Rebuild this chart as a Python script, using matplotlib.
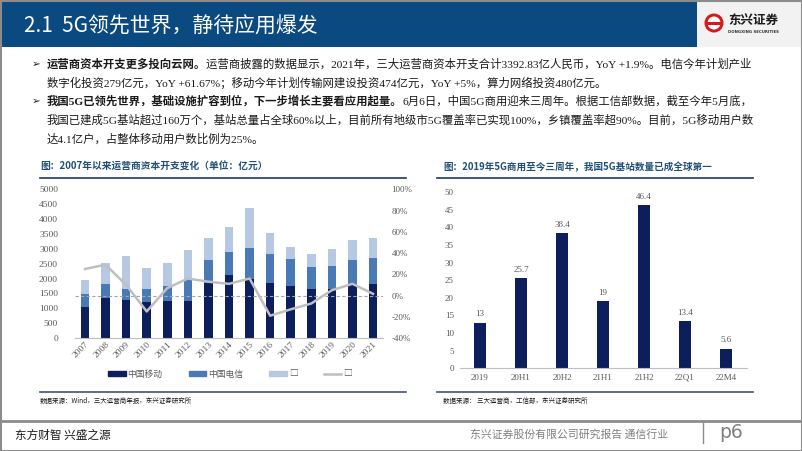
import matplotlib
matplotlib.use("Agg")
import matplotlib.pyplot as plt
from matplotlib.patches import Rectangle, Patch
from matplotlib.lines import Line2D

plt.rcParams['font.family'] = ['Liberation Serif', 'Noto Sans CJK SC', 'DejaVu Sans']
CJK = ['Noto Sans CJK SC', 'DejaVu Sans']
SERIF = ['Liberation Serif', 'Noto Sans CJK SC', 'DejaVu Sans']

# ---- data: left chart (capex, 亿元) ----
years = ['2007', '2008', '2009', '2010', '2011', '2012', '2013', '2014',
         '2015', '2016', '2017', '2018', '2019', '2020', '2021']
mobile = [1030, 1335, 1280, 1210, 1255, 1255, 1840, 2130, 1975, 1850, 1760, 1650, 1650, 1770, 1830]
telecom = [460, 480, 380, 450, 495, 720, 785, 775, 1050, 965, 890, 750, 760, 855, 855]
unicom = [455, 705, 1110, 695, 770, 1000, 730, 840, 1335, 730, 405, 435, 575, 670, 685]
growth = [25, 29, 10, -15, 7, 16, 13, 11, 16, -19, -13, -7.5, 5, 11, 1.6]
left_labels = ['中国移动', '中国电信', '□', '□']

# ---- data: right chart (5G base stations, 万个) ----
periods = ['2019', '20H1', '20H2', '21H1', '21H2', '22Q1', '22M4']
stations = [13, 25.7, 38.4, 19, 46.4, 13.4, 5.6]

NAVY = '#0c1f5c'
MID = '#4a7ab6'
LIGHT = '#b7c9e2'
LINE = '#bfbfbf'
HEAD = '#0b4a80'
TITLE = '#1f4e79'
TICK = '#595959'

W, H = 802, 451
fig = plt.figure(figsize=(W / 100, H / 100), dpi=100)

# pixel overlay for page furniture
bg = fig.add_axes([0, 0, 1, 1], zorder=-1)
bg.set_xlim(0, W)
bg.set_ylim(H, 0)
bg.axis('off')

# header
bg.add_patch(Rectangle((0, 0), 697, 47, color=HEAD, lw=0))
bg.add_patch(Rectangle((697, 0), W - 697, 47, color='#f2f2f2', lw=0))
bg.text(24, 27, '2.1  5G领先世界，静待应用爆发', color='white', fontsize=15,
        family=CJK, weight='medium', va='center')
# logo
bg.add_patch(plt.Circle((714, 23), 9.5, color='#d7191c', lw=0))
bg.add_patch(plt.Circle((714, 23), 6.5, color='white', lw=0))
bg.add_patch(Rectangle((706, 22), 16, 3, color='#d7191c', lw=0))
bg.text(728, 20, '东兴证券', color='#1a1a1a', fontsize=9, family=CJK, weight='bold', va='center')
bg.text(728, 32, 'DONGXING SECURITIES', color='#333333', fontsize=2.8,
        family=['DejaVu Sans'], weight='bold', va='center')

# bullet text
fs = 8.2


def line(y, parts, x0=47):
    t = None
    for s, bold in parts:
        kw = dict(fontsize=fs, color='#1a1a1a', family=SERIF,
                  weight='bold' if bold else 'normal', va='center', ha='left')
        if t is None:
            t = bg.text(x0, y, s, **kw)
        else:
            t = bg.annotate(s, xy=(1, 0.5), xycoords=t, **kw)
    return t


bg.text(32, 64, '➢', fontsize=7.5, family=['DejaVu Sans'], va='center', color='#1a1a1a')
bg.text(32, 101, '➢', fontsize=7.5, family=['DejaVu Sans'], va='center', color='#1a1a1a')
line(64, [('运营商资本开支更多投向云网。', True),
          ('运营商披露的数据显示，2021年，三大运营商资本开支合计3392.83亿人民币，YoY +1.9%。电信今年计划产业', False)])
line(82.5, [('数字化投资279亿元，YoY +61.67%；移动今年计划传输网建设投资474亿元，YoY +5%，算力网络投资480亿元。', False)])
line(101, [('我国5G已领先世界，基础设施扩容到位，下一步增长主要看应用起量。', True),
           ('6月6日，中国5G商用迎来三周年。根据工信部数据，截至今年5月底，', False)])
line(120, [('我国已建成5G基站超过160万个，基站总量占全球60%以上，目前所有地级市5G覆盖率已实现100%，乡镇覆盖率超90%。目前，5G移动用户数', False)])
line(139, [('达4.1亿户，占整体移动用户数比例为25%。', False)])

# chart titles / rules
bg.text(40, 167, '图：2007年以来运营商资本开支变化（单位：亿元）', color=TITLE, fontsize=7.0,
        family=CJK, weight='bold', va='center')
bg.text(443, 167, '图：2019年5G商用至今三周年，我国5G基站数量已成全球第一', color=TITLE, fontsize=6.9,
        family=CJK, weight='bold', va='center')
for x0, x1 in [(40, 406), (437, 753)]:
    bg.plot([x0, x1], [178, 178], color='#1f3864', lw=1.2)
    bg.plot([x0, x1], [391.5, 391.5], color='#44546a', lw=1.2)
bg.text(40, 401, '数据来源：Wind，三大运营商年报，东兴证券研究所', fontsize=4.7, family=CJK,
        weight='medium', va='center', color='#1a1a1a')
bg.text(443, 401, '数据来源： 三大运营商，工信部，东兴证券研究所', fontsize=4.7, family=CJK,
        weight='medium', va='center', color='#1a1a1a')

# footer
bg.plot([0, W], [420.5, 420.5], color='#8c8c8c', lw=2)
bg.text(15, 435, '东方财智 兴盛之源', fontsize=8.4, family=CJK, va='center', color='#1a1a1a')
bg.text(470, 434, '东兴证券股份有限公司研究报告 通信行业', fontsize=7.8, family=CJK,
        va='center', color='#7f7f7f')
bg.plot([703, 703], [423, 443], color='#8c8c8c', lw=1)
bg.text(719, 432, 'p6', fontsize=13.5, family=['DejaVu Sans'], va='center', color='#7f7f7f')
bg.add_patch(Rectangle((0.5, 0.5), W - 1, H - 1, fill=False, ec='#8c8c8c', lw=1.5))

# ---- left chart ----
ax = fig.add_axes([74.7 / W, 1 - 338 / H, 308.6 / W, 148.7 / H])
x = range(len(years))
bw = 0.42
ax.bar(x, mobile, bw, color=NAVY, label=left_labels[0])
bot = [m for m in mobile]
ax.bar(x, telecom, bw, bottom=bot, color=MID, label=left_labels[1])
bot2 = [m + t for m, t in zip(mobile, telecom)]
ax.bar(x, unicom, bw, bottom=bot2, color=LIGHT, label=left_labels[2])
ax.set_xlim(-0.5, len(years) - 0.5)
ax.set_ylim(0, 5000)
ax.set_yticks(range(0, 5001, 500))
ax.set_xticks(list(x))
ax.set_xticklabels(years, rotation=45, ha='right', rotation_mode='anchor')
for s in ['top', 'left', 'right']:
    ax.spines[s].set_visible(False)
ax.spines['bottom'].set_color('#bfbfbf')
ax.tick_params(length=0, labelsize=6.8, colors=TICK, pad=12)
ax.tick_params(axis='x', pad=2)

ax2 = ax.twinx()
ax2.set_ylim(-40, 100)
ax2.set_yticks(range(-40, 101, 20))
ax2.set_yticklabels([f'{v}%' for v in range(-40, 101, 20)])
ax2.axhline(0, color='#a6a6a6', ls=(0, (3, 2)), lw=0.8)
ax2.plot(list(x), growth, color=LINE, lw=1.8)
for s in ax2.spines.values():
    s.set_visible(False)
ax2.tick_params(length=0, labelsize=6.5, colors=TICK, pad=6)

handles = [Patch(color=NAVY), Patch(color=MID), Patch(color=LIGHT),
           Line2D([], [], color=LINE, lw=1.8)]
fig.legend(handles, left_labels, loc='center', bbox_to_anchor=(230 / W, 1 - 374 / H),
           ncol=4, frameon=False, handlelength=2.0, handleheight=0.45, handletextpad=0.2,
           columnspacing=3.0, prop={'family': CJK, 'size': 6.3}, labelcolor=TICK)

# ---- right chart ----
bx = fig.add_axes([459.5 / W, 1 - 368.3 / H, 287 / W, 176 / H])
bars = bx.bar(range(len(periods)), stations, 0.31, color=NAVY)
bx.bar_label(bars, fmt='%g', padding=3, fontsize=6.5, color=TICK, family=SERIF)
bx.set_xlim(-0.5, len(periods) - 0.5)
bx.set_ylim(0, 50)
bx.set_yticks(range(0, 51, 5))
bx.set_xticks(range(len(periods)))
bx.set_xticklabels(periods)
for s in ['top', 'left', 'right']:
    bx.spines[s].set_visible(False)
bx.spines['bottom'].set_color('#bfbfbf')
bx.tick_params(length=0, labelsize=6.5, colors=TICK, pad=4)

fig.savefig('out.png', dpi=100)
